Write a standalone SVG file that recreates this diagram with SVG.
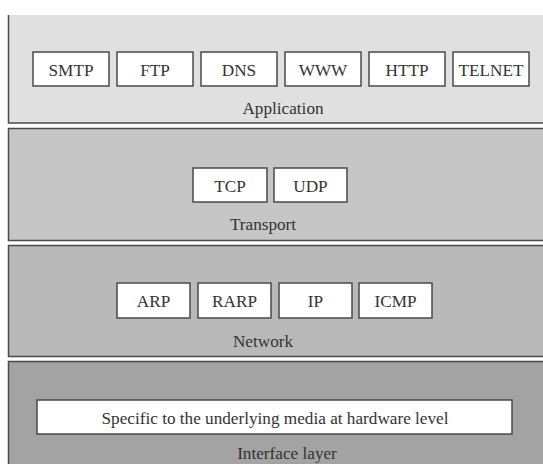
<svg xmlns="http://www.w3.org/2000/svg" width="543" height="464" viewBox="0 0 543 464" font-family="'Liberation Serif', 'DejaVu Serif', serif">
<style>
.lay{stroke:#4a4a4a;stroke-width:1.5}
.box{fill:#fff;stroke:#4a4a4a;stroke-width:1.5}
.t{font-family:'Liberation Serif','DejaVu Serif',serif;font-size:17.2px;fill:#333;text-anchor:middle}
</style>
<rect width="543" height="464" fill="#fff"/>
<g id="application">
<rect x="8.5" y="15" width="540" height="108" fill="#e0e0e0"/>
<path class="lay" d="M8.5 15V123H543" fill="none"/>
<g id="smtp"><rect class="box" x="33" y="52" width="76" height="34"/><text class="t" x="71" y="76">SMTP</text></g>
<g id="ftp"><rect class="box" x="117" y="52" width="76" height="34"/><text class="t" x="155" y="76">FTP</text></g>
<g id="dns"><rect class="box" x="201" y="52" width="76" height="34"/><text class="t" x="239" y="76">DNS</text></g>
<g id="www"><rect class="box" x="285" y="52" width="76" height="34"/><text class="t" x="323" y="76">WWW</text></g>
<g id="http"><rect class="box" x="369" y="52" width="76" height="34"/><text class="t" x="407" y="76">HTTP</text></g>
<g id="telnet"><rect class="box" x="453" y="52" width="76" height="34"/><text class="t" x="491" y="76">TELNET</text></g>
<text class="t" x="283" y="114">Application</text>
</g>
<g id="transport">
<rect x="8.5" y="128.5" width="540" height="112" fill="#c6c6c6"/>
<path class="lay" d="M543 128.5H8.5V240.5H543" fill="none"/>
<g id="tcp"><rect class="box" x="193" y="168" width="74" height="34"/><text class="t" x="230" y="192">TCP</text></g>
<g id="udp"><rect class="box" x="274" y="168" width="73" height="34"/><text class="t" x="310.5" y="192">UDP</text></g>
<text class="t" x="263" y="230">Transport</text>
</g>
<g id="network">
<rect x="8.5" y="245.5" width="540" height="111" fill="#b9b9b9"/>
<path class="lay" d="M543 245.5H8.5V356.5H543" fill="none"/>
<g id="arp"><rect class="box" x="117" y="283" width="73" height="35"/><text class="t" x="153.5" y="307">ARP</text></g>
<g id="rarp"><rect class="box" x="198" y="283" width="73" height="35"/><text class="t" x="234.5" y="307">RARP</text></g>
<g id="ip"><rect class="box" x="279" y="283" width="73" height="35"/><text class="t" x="315.5" y="307">IP</text></g>
<g id="icmp"><rect class="box" x="359" y="283" width="73" height="35"/><text class="t" x="395.5" y="307">ICMP</text></g>
<text class="t" x="263" y="347">Network</text>
</g>
<g id="interface">
<rect x="8.5" y="361.5" width="540" height="110" fill="#a3a3a3"/>
<path class="lay" d="M543 361.5H8.5V464" fill="none"/>
<g id="media"><rect class="box" x="37" y="400" width="475" height="34"/><text class="t" x="275" y="424">Specific to the underlying media at hardware level</text></g>
<text class="t" x="287" y="459">Interface layer</text>
</g>
<g id="connectors"/>
</svg>
